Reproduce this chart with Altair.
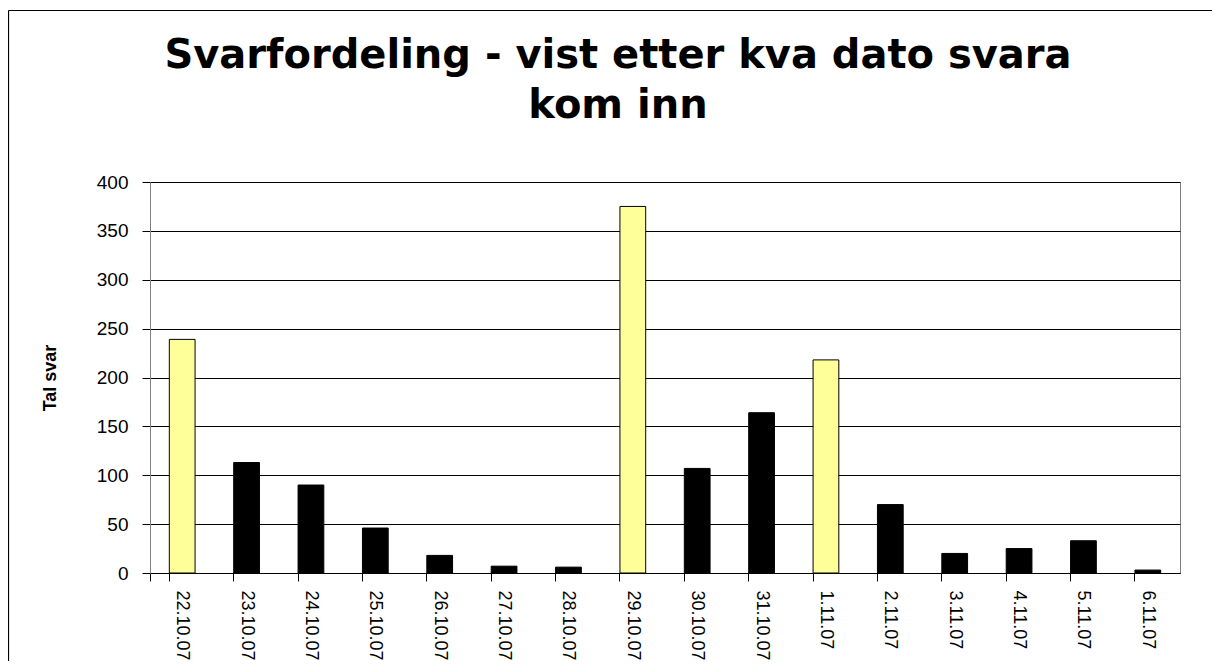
import altair as alt
import pandas as pd

dates = ["22.10.07", "23.10.07", "24.10.07", "25.10.07", "26.10.07", "27.10.07",
         "28.10.07", "29.10.07", "30.10.07", "31.10.07", "1.11.07", "2.11.07",
         "3.11.07", "4.11.07", "5.11.07", "6.11.07"]
values = [239, 113, 90, 46, 18, 7, 6, 375, 107, 164, 218, 70, 20, 25, 33, 3]
groups = ["måndag", "annan", "annan", "annan", "annan", "annan", "annan", "måndag",
          "annan", "annan", "måndag", "annan", "annan", "annan", "annan", "annan"]
y_ticks = [0, 50, 100, 150, 200, 250, 300, 350, 400]
title_line1 = "Svarfordeling - vist etter kva dato svara"
title_line2 = "kom inn"

df = pd.DataFrame({"dato": dates, "svar": values, "gruppe": groups})
one = pd.DataFrame({"a": [0]})

bars = alt.Chart(df).mark_bar(stroke="black", strokeWidth=1).encode(
    x=alt.X("dato:N", sort=None, title=None,
            scale=alt.Scale(paddingInner=0.6, paddingOuter=0.3),
            axis=alt.Axis(labelAngle=90, labelFont="Liberation Sans", labelFontSize=18,
                          labelColor="black", labelPadding=9, tickSize=8,
                          tickColor="black", domainColor="black", bandPosition=0,
                          tickExtra=True, grid=False)),
    y=alt.Y("svar:Q", title="Tal svar",
            scale=alt.Scale(domain=[0, 400], nice=False),
            axis=alt.Axis(values=y_ticks, grid=True, gridColor="black", gridWidth=1,
                          tickSize=8, tickColor="black", domainColor="#808080",
                          labelFont="Liberation Sans", labelFontSize=19,
                          labelColor="black", labelPadding=14,
                          titleFont="Liberation Sans", titleFontSize=18,
                          titleFontWeight="bold", titleColor="black",
                          titleX=-100, titleY=195.5, titleAngle=270,
                          titleAlign="center", titleBaseline="middle")),
    color=alt.Color("gruppe:N", legend=None,
                    scale=alt.Scale(domain=["måndag", "annan"],
                                    range=["#FFFF99", "#000000"])),
)

frame_top = alt.Chart(one).mark_rule(color="black", strokeWidth=1.2).encode(
    x=alt.value(-141.5), x2=alt.value(1062), y=alt.value(-171.5))
frame_left = alt.Chart(one).mark_rule(color="black", strokeWidth=1.2).encode(
    x=alt.value(-141.5), y=alt.value(-171.5), y2=alt.value(480))

title_style = dict(font="DejaVu Sans", fontSize=40, fontWeight="bold",
                   color="black", align="center", baseline="alphabetic")
t1 = alt.Chart(one).mark_text(text=title_line1, **title_style).encode(
    x=alt.value(468), y=alt.value(-114))
t2 = alt.Chart(one).mark_text(text=title_line2, **title_style).encode(
    x=alt.value(468), y=alt.value(-64))

chart = alt.layer(frame_top, frame_left, t1, t2, bars).properties(
    width=1030, height=391,
    autosize=alt.AutoSizeParams(type="none"),
    padding={"left": 142, "top": 174, "right": 32, "bottom": 88},
    background="white",
).configure_view(stroke="#808080", strokeWidth=1)

chart.save("out.html", embed_options={"renderer": "svg", "actions": False})
